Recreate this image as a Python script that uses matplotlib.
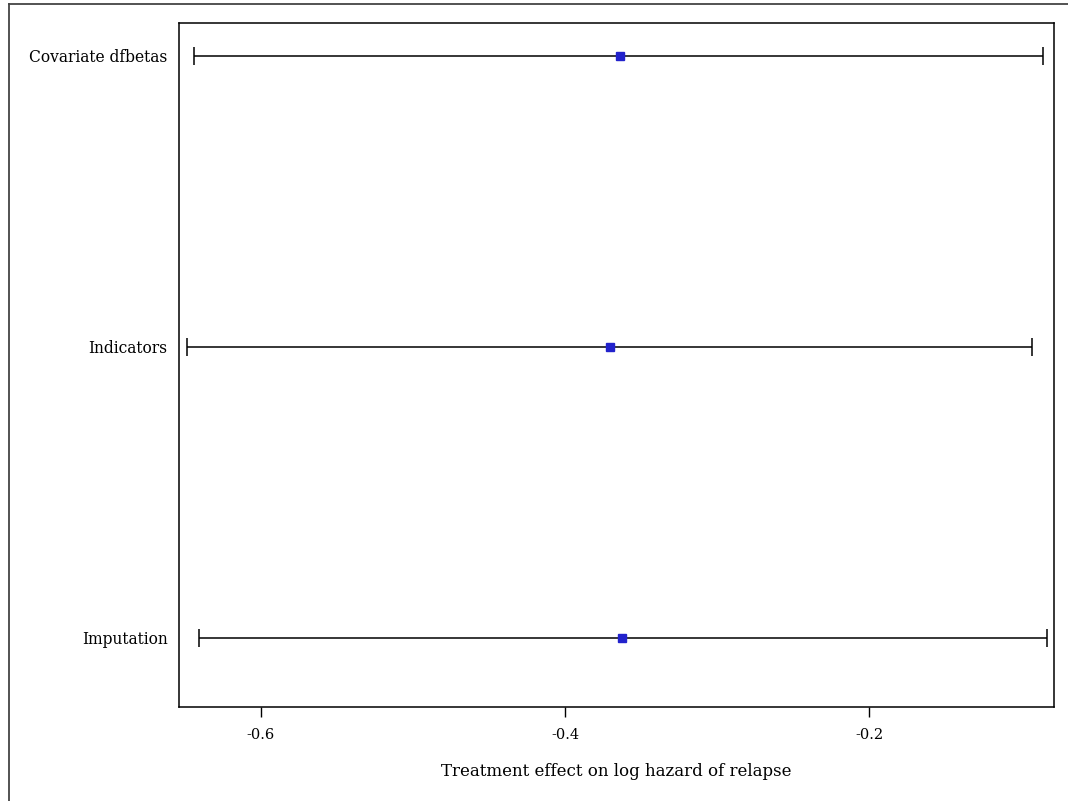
import matplotlib
matplotlib.use('Agg')
import matplotlib.pyplot as plt
from matplotlib.lines import Line2D

methods = ['Covariate dfbetas', 'Indicators', 'Imputation']
estimate = [-0.3638, -0.3704, -0.3627]
lower = [-0.6438, -0.6487, -0.6408]
upper = [-0.0860, -0.0932, -0.0834]

plt.rcParams['font.family'] = ['DejaVu Serif']

fig = plt.figure(figsize=(10.68, 8.01), dpi=100)
ax = fig.add_axes([0.1673, 0.1174, 0.8199, 0.8539])

ypos = [3, 2, 1]
for y, est, lo, hi in zip(ypos, estimate, lower, upper):
    ax.errorbar(est, y, xerr=[[est - lo], [hi - est]], fmt='none',
                ecolor='black', elinewidth=1.1, capsize=6.8, capthick=1.1)
    ax.plot(est, y, 's', color='#2222cc', markersize=5.5, zorder=3)

ax.set_xlim(-0.6541, -0.0784)
ax.set_ylim(0.763, 3.113)
ax.set_xticks([-0.6, -0.4, -0.2])
ax.set_xticklabels(['-0.6', '-0.4', '-0.2'])
ax.set_yticks(ypos)
ax.set_yticklabels(methods)
ax.tick_params(axis='x', direction='out', length=7, width=1, pad=8, labelsize=10.5)
ax.tick_params(axis='y', length=0, pad=8, labelsize=11.2)
for s in ax.spines.values():
    s.set_linewidth(1.1)
ax.set_xlabel('Treatment effect on log hazard of relapse', fontsize=12, labelpad=15)

# outer frame, open to the right and bottom
fig.add_artist(Line2D([0.0084, 1.0], [0.995, 0.995], color='#444444', lw=1.3))
fig.add_artist(Line2D([0.0084, 0.0084], [0.0, 0.995], color='#444444', lw=1.3))

fig.savefig('out.png', dpi=100)
